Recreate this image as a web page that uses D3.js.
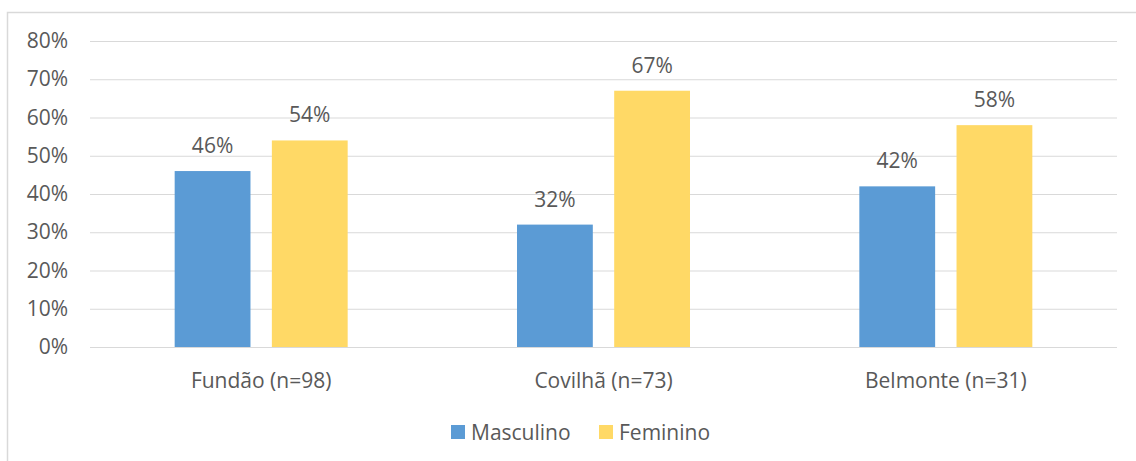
<!DOCTYPE html>
<html>
<head>
<meta charset="utf-8">
<script src="https://cdn.jsdelivr.net/npm/d3@7"></script>
<style>
body{margin:0;background:#fff}
text{font-family:"Open Sans",sans-serif;fill:#595959}
</style>
</head>
<body>
<div id="chart"></div>
<script>
const categories=['Fundão (n=98)','Covilhã (n=73)','Belmonte (n=31)']
const seriesNames=['Masculino','Feminino']
const masculino=[46,32,42]
const feminino=[54,67,58]
const yTicks=[0,10,20,30,40,50,60,70,80]
const colors=['#5b9bd5','#ffd966']

const W=1136,H=461
const margin={top:41,right:19,bottom:114,left:90}
const width=W-margin.left-margin.right,
  height=H-margin.top-margin.bottom
const fs=21

const svg=d3.select('#chart').append('svg')
	.attr('width',W)
	.attr('height',H)

svg.append('rect')
	.attr('x',7.5).attr('y',12.5)
	.attr('width',W).attr('height',H)
	.attr('fill','none')
	.attr('stroke','#d9d9d9')
	.attr('stroke-width',1.5)

const g=svg.append('g')
	.attr('transform','translate('+margin.left+','+margin.top+')')

const x0=d3.scaleBand()
	.domain(categories)
	.range([0,width])

const x1=d3.scaleBand()
	.domain(seriesNames)
	.range([0,173])
	.paddingInner(0.22)

const y=d3.scaleLinear()
	.domain([0,80])
	.range([height,0])

// grid + y labels
const yAxis=d3.axisLeft(y)
	.tickValues(yTicks)
	.tickSize(-width)
	.tickPadding(22)
	.tickFormat(d=>d+'%')

g.append('g')
	.call(yAxis)
	.call(s=>s.select('.domain').remove())
	.call(s=>s.selectAll('line').attr('stroke','#d9d9d9'))
	.call(s=>s.selectAll('text').attr('font-size',fs).attr('font-family','"Open Sans",sans-serif').style('fill','#595959'))

const rows=categories.map((c,i)=>({cat:c,vals:[masculino[i],feminino[i]]}))

const groups=g.selectAll('.grp')
	.data(rows)
	.join('g')
	.attr('class','grp')
	.attr('transform',d=>'translate('+(x0(d.cat)+x0.bandwidth()/2-86.5)+',0)')

groups.selectAll('rect')
	.data(d=>d.vals.map((v,j)=>({k:seriesNames[j],v,j})))
	.join('rect')
	.attr('x',d=>x1(d.k))
	.attr('y',d=>y(d.v))
	.attr('width',x1.bandwidth())
	.attr('height',d=>height-y(d.v))
	.attr('fill',d=>colors[d.j])

groups.selectAll('.lbl')
	.data(d=>d.vals.map((v,j)=>({k:seriesNames[j],v,j})))
	.join('text')
	.attr('class','lbl')
	.attr('x',d=>x1(d.k)+x1.bandwidth()/2)
	.attr('y',d=>y(d.v)-18)
	.attr('text-anchor','middle')
	.attr('font-size',fs)
	.text(d=>d.v+'%')

// category labels
g.selectAll('.cat')
	.data(categories)
	.join('text')
	.attr('class','cat')
	.attr('x',d=>x0(d)+x0.bandwidth()/2)
	.attr('y',height+41)
	.attr('text-anchor','middle')
	.attr('font-size',fs)
	.text(d=>d)

// legend
const legend=svg.append('g')
	.attr('transform','translate(451,425)')
const legX=[0,148]
seriesNames.forEach((s,i)=>{
	legend.append('rect')
		.attr('x',legX[i]).attr('y',0)
		.attr('width',14).attr('height',14)
		.attr('fill',colors[i])
	legend.append('text')
		.attr('x',legX[i]+20).attr('y',15)
		.attr('font-size',fs)
		.text(s)
})
</script>
</body>
</html>
